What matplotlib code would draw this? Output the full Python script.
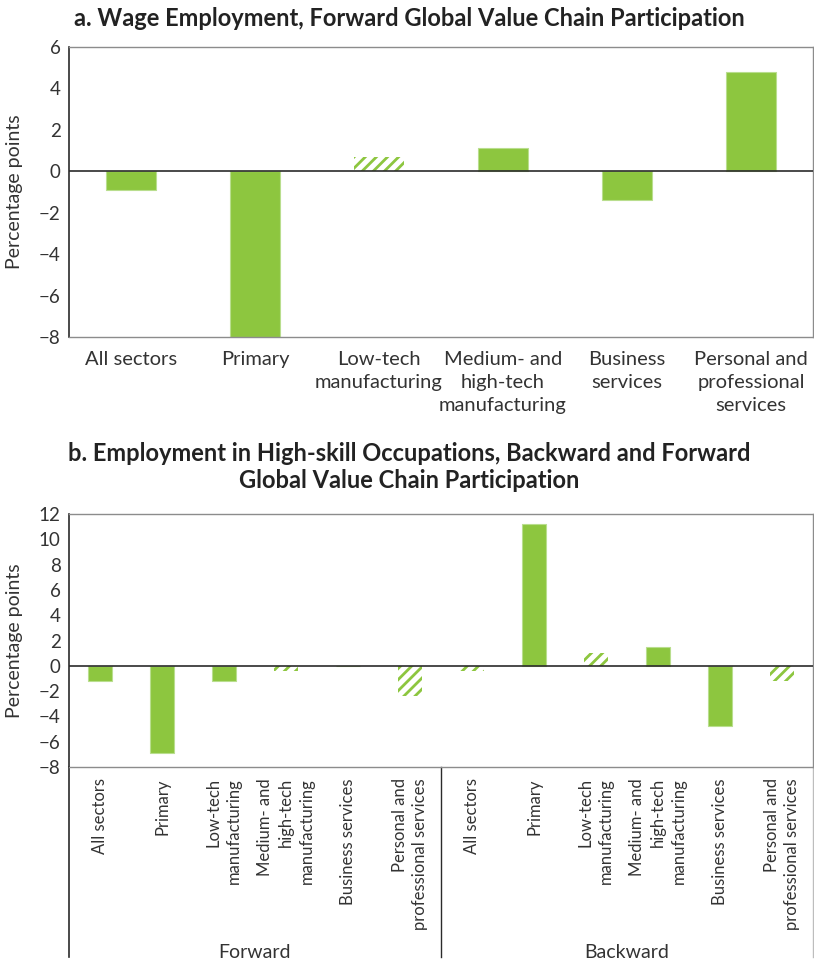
import matplotlib
matplotlib.use("Agg")
import matplotlib.pyplot as plt
from matplotlib.lines import Line2D

plt.rcParams["font.family"] = ["Lato", "DejaVu Sans"]
plt.rcParams["hatch.linewidth"] = 2.0

# ---- data -------------------------------------------------------------
sectors_a = ["All sectors", "Primary", "Low-tech\nmanufacturing",
             "Medium- and\nhigh-tech\nmanufacturing", "Business\nservices",
             "Personal and\nprofessional\nservices"]
wage_forward = [-0.9, -8.0, 0.7, 1.1, -1.4, 4.8]
wage_insignificant = [False, False, True, False, False, False]

sectors_b = ["All sectors", "Primary", "Low-tech\nmanufacturing",
             "Medium- and\nhigh-tech\nmanufacturing", "Business services",
             "Personal and\nprofessional services"]
groups_b = ["Forward", "Backward"]
skill_forward = [-1.2, -6.9, -1.2, -0.45, 0.0, -2.4]
skill_backward = [-0.45, 11.2, 1.0, 1.45, -4.75, -1.2]
skill_forward_insig = [False, False, False, True, False, True]
skill_backward_insig = [True, False, True, False, False, True]

yticks_a = [6, 4, 2, 0, -2, -4, -6, -8]
yticks_b = [12, 10, 8, 6, 4, 2, 0, -2, -4, -6, -8]

GREEN = "#8dc63f"
EDGE_LIGHT = "#b9de8e"
DARK = "#2b2b2b"
GRAY = "#8c8c8c"
TEXT = "#333333"

fig = plt.figure(figsize=(8.14, 9.63), dpi=100)


def draw_bars(ax, values, insig, width):
    x = list(range(len(values)))
    for xi, v, ins in zip(x, values, insig):
        if ins:
            ax.bar(xi, v, width=width, facecolor="white", edgecolor=GREEN,
                   linewidth=0, hatch="///", zorder=2)
        else:
            ax.bar(xi, v, width=width, color=GREEN, edgecolor=EDGE_LIGHT,
                   linewidth=0.8, zorder=2)


def style_axes(ax, yticks):
    ax.set_ylim(min(yticks), max(yticks))
    ax.set_yticks(yticks)
    ax.set_yticklabels([str(t).replace("-", "\u2212") for t in yticks])
    ax.tick_params(axis="y", length=0, labelsize=13.5, pad=6, colors=TEXT)
    ax.tick_params(axis="x", length=0)
    ax.spines["left"].set_color(DARK)
    ax.spines["left"].set_linewidth(1.2)
    for s in ("top", "right", "bottom"):
        ax.spines[s].set_color(GRAY)
        ax.spines[s].set_linewidth(1.0)
    ax.axhline(0, color=DARK, linewidth=1.2, zorder=3)
    ax.set_ylabel("Percentage points", fontsize=14, color=TEXT)
    ax.yaxis.set_label_coords(-0.062, 0.5)


# ---- panel a ----------------------------------------------------------
ax1 = fig.add_axes([69 / 814, 1 - 337 / 963, 744 / 814, 290 / 963])
draw_bars(ax1, wage_forward, wage_insignificant, 0.4)
ax1.set_xlim(-0.5, len(sectors_a) - 0.5)
style_axes(ax1, yticks_a)
ax1.set_xticks(range(len(sectors_a)))
ax1.set_xticklabels(sectors_a, fontsize=14.5, color=TEXT, linespacing=1.45)
ax1.tick_params(axis="x", pad=10)

fig.text(0.503, 1 - 18 / 963,
         "a. Wage Employment, Forward Global Value Chain Participation",
         ha="center", va="center", fontsize=17, fontweight="bold",
         color="#222222")

# ---- panel b ----------------------------------------------------------
ax2 = fig.add_axes([69 / 814, 1 - 767 / 963, 744 / 814, 253 / 963])
vals_b = skill_forward + skill_backward
insig_b = skill_forward_insig + skill_backward_insig
draw_bars(ax2, vals_b, insig_b, 0.4)
n_b = len(vals_b)
ax2.set_xlim(-0.5, n_b - 0.5)
style_axes(ax2, yticks_b)
ax2.set_xticks(range(n_b))
ax2.set_xticklabels(sectors_b * 2, rotation=90, fontsize=12, color=TEXT,
                    linespacing=1.35, va="top", ha="center")
for lbl in ax2.get_xticklabels():
    lbl.set_multialignment("right")
ax2.tick_params(axis="x", pad=8)

# group dividers below the axis
drop = (957 - 767) / 253
for xpos, col, lw in [(0.0, DARK, 1.2), (0.5, DARK, 1.0), (1.0, "#bdbdbd", 1.0)]:
    ax2.add_line(Line2D([xpos, xpos], [0, -drop], transform=ax2.transAxes,
                        color=col, linewidth=lw, clip_on=False))
for i, g in enumerate(groups_b):
    ax2.text(0.25 + 0.5 * i, -(952 - 767) / 253, g, transform=ax2.transAxes,
             ha="center", va="center", fontsize=14, color=TEXT)

fig.text(0.503, 1 - 467 / 963,
         "b. Employment in High-skill Occupations, Backward and Forward\n"
         "Global Value Chain Participation",
         ha="center", va="center", fontsize=17, fontweight="bold",
         color="#222222", linespacing=1.25)

fig.savefig("out.png", dpi=100)
